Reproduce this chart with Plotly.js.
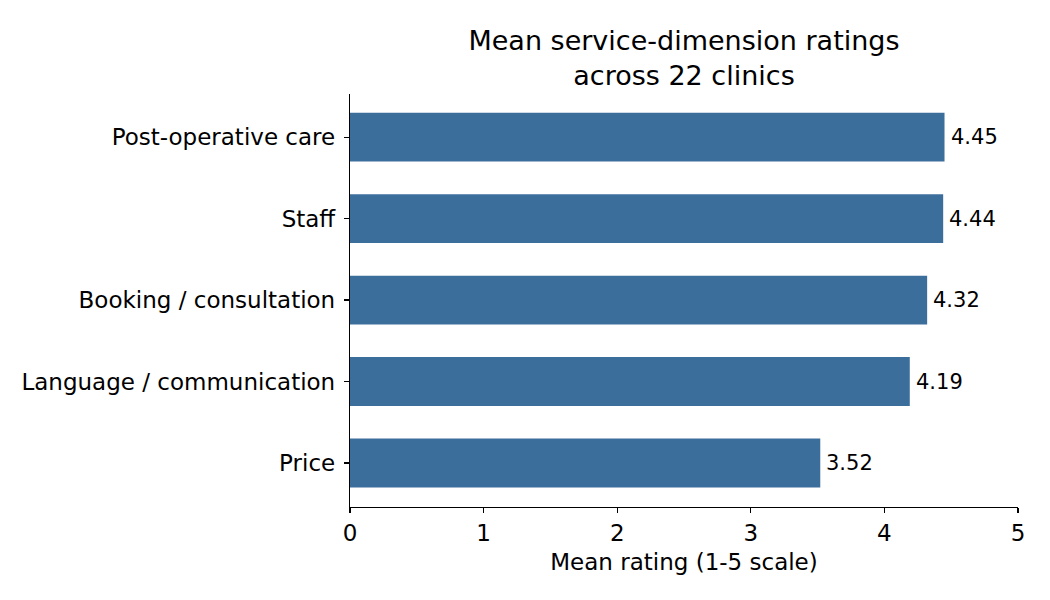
<!DOCTYPE html>
<html>
<head>
<meta charset="utf-8">
<script src="https://cdn.plot.ly/plotly-3.0.1.min.js"></script>
<style>
  body { margin: 0; background: #fff; }
  #chart { width: 1050px; height: 600px; }
</style>
</head>
<body>
<div id="chart"></div>
<script>
// bottom to top, as plotly stacks categories upward
const dimensions = ['Price', 'Language / communication', 'Booking / consultation', 'Staff', 'Post-operative care'];
const meanRatings = [3.52, 4.19, 4.32, 4.44, 4.45];
const xTicks = [0, 1, 2, 3, 4, 5];

const barColor = '#3c6e9c';
const font = 'DejaVu Sans, sans-serif';

const trace = {
  type: 'bar',
  orientation: 'h',
  x: meanRatings,
  y: dimensions,
  width: 0.6,
  marker: { color: barColor },
  hoverinfo: 'x+y'
};

// value labels just past the end of each bar
const labels = meanRatings.map((v, i) => ({
  x: v,
  y: dimensions[i],
  xref: 'x',
  yref: 'y',
  text: v.toFixed(2),
  showarrow: false,
  xanchor: 'left',
  yanchor: 'middle',
  xshift: 4,
  font: { family: font, size: 21, color: '#000' }
}));

const layout = {
  width: 1050,
  height: 600,
  margin: { l: 350, r: 32, t: 94, b: 93, pad: 0 },
  paper_bgcolor: '#fff',
  plot_bgcolor: '#fff',
  font: { family: font, size: 23, color: '#000' },
  showlegend: false,
  annotations: labels,
  title: {
    text: 'Mean service-dimension ratings<br>across 22 clinics',
    font: { family: font, size: 27, color: '#000' },
    xref: 'paper',
    x: 0.5,
    xanchor: 'center',
    yref: 'container',
    y: 0.917,
    yanchor: 'top'
  },
  xaxis: {
    range: [0, 5],
    tickvals: xTicks,
    ticktext: xTicks.map(String),
    showgrid: false,
    zeroline: false,
    showline: true,
    linecolor: '#000',
    linewidth: 1.2,
    ticks: 'outside',
    ticklen: 5,
    tickwidth: 1.2,
    tickcolor: '#000',
    tickfont: { family: font, size: 23 },
    title: { text: 'Mean rating (1-5 scale)', font: { family: font, size: 23 }, standoff: 9 }
  },
  yaxis: {
    type: 'category',
    range: [-0.54, 4.53],
    showgrid: false,
    zeroline: false,
    showline: true,
    linecolor: '#000',
    linewidth: 1.2,
    ticks: 'outside',
    ticklen: 5,
    tickwidth: 1.2,
    tickcolor: '#000',
    tickfont: { family: font, size: 23 },
    ticklabelstandoff: 4
  }
};

Plotly.newPlot('chart', [trace], layout, { displayModeBar: false, staticPlot: true });
</script>
</body>
</html>
